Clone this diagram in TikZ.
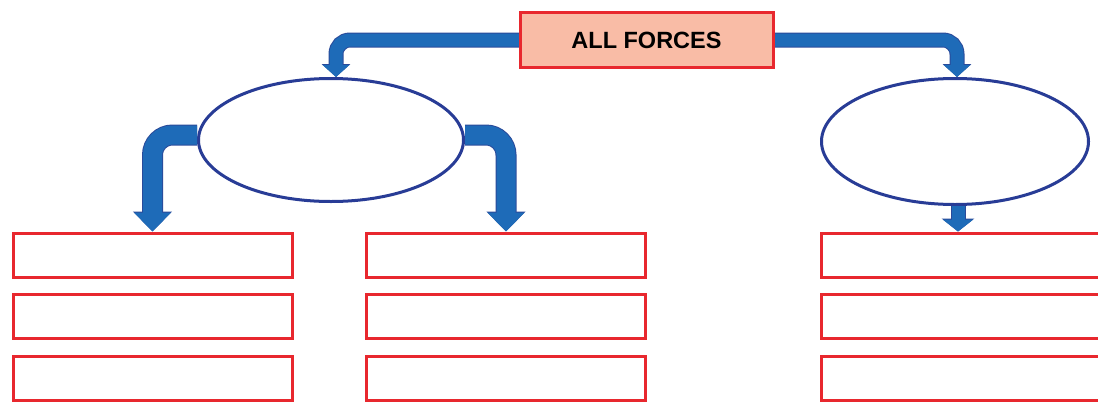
\documentclass[tikz,border=0pt]{standalone}
\usepackage{fontspec}
\setmainfont{Liberation Sans}
\usetikzlibrary{shapes.geometric,arrows.meta}
\definecolor{boxred}{HTML}{E8282E}
\definecolor{salmon}{HTML}{F9BCA6}
\definecolor{ellblue}{HTML}{283C96}
\definecolor{arrblue}{HTML}{1E6BB8}
\definecolor{arrdark}{HTML}{2A4A9A}
\tikzset{
  redbox/.style={draw=boxred, line width=3pt, rectangle, inner sep=0pt, minimum width=279pt, minimum height=44pt},
  topbox/.style={draw=boxred, fill=salmon, line width=3pt, rectangle, inner sep=0pt, minimum width=253pt, minimum height=55pt, font=\fontsize{23.5}{28}\selectfont\bfseries},
  oval/.style={draw=ellblue, line width=3pt, ellipse, inner sep=0pt},
  thinarrow/.style={draw=arrblue, line width=13pt, rounded corners=14pt, -{Triangle[width=26pt,length=12pt]},
    preaction={draw=arrdark, line width=15pt, rounded corners=14pt, -{Triangle[width=28pt,length=13pt]}}},
  fatarrow/.style={draw=arrblue, line width=19pt, rounded corners=20pt, -{Triangle[width=36pt,length=19pt]},
    preaction={draw=arrdark, line width=21pt, rounded corners=20pt, -{Triangle[width=38pt,length=20pt]}}},
  midarrow/.style={draw=arrblue, line width=13pt, -{Triangle[width=30pt,length=12pt]},
    preaction={draw=arrdark, line width=15pt, -{Triangle[width=32pt,length=13pt]}}}
}
\begin{document}
\begin{tikzpicture}[x=1pt,y=-1pt]
\useasboundingbox (0,0) rectangle (1098,402);
\clip (0,0) rectangle (1098,402);
\fill[white] (0,0) rectangle (1098,402);

\node[oval, minimum width=265pt, minimum height=123pt] (e1) at (331,140) {};
\node[oval, minimum width=267pt, minimum height=126pt] (e2) at (955,141.5) {};

\node[redbox] (b11) at (152.5,255) {};
\node[redbox] (b12) at (152.5,316.5) {};
\node[redbox] (b13) at (152.5,378) {};
\node[redbox] (b21) at (506,255) {};
\node[redbox] (b22) at (506,316.5) {};
\node[redbox] (b23) at (506,378) {};
\node[redbox, minimum width=295pt] (b31) at (969,255) {};
\node[redbox, minimum width=295pt] (b32) at (969,316.5) {};
\node[redbox, minimum width=295pt] (b33) at (969,378) {};

\draw[thinarrow] (646.5,40) coordinate (allc) ++(-120,0) -| ([xshift=5pt]e1.north);
\draw[thinarrow] (allc) ++(120,0) -| ([xshift=2pt]e2.north);
\draw[fatarrow] ([yshift=5pt]e1.west) -| (b11.north);
\draw[fatarrow] ([yshift=5pt]e1.east) -| (b21.north);
\draw[midarrow] ([xshift=-11pt]b31.north |- e2.south) -- ([xshift=-11pt]b31.north);

\node[topbox] (all) at (allc) {ALL FORCES};
\end{tikzpicture}
\end{document}
